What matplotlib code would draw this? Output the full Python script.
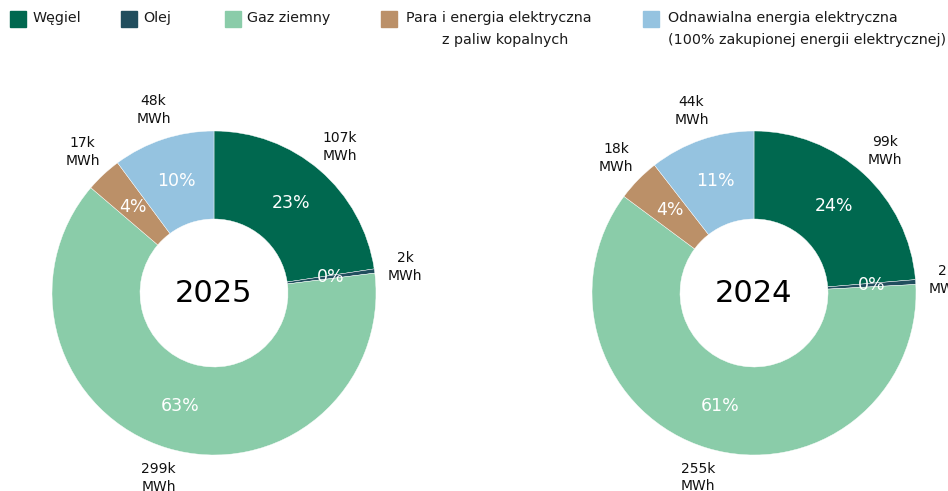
import matplotlib as mpl
import matplotlib.pyplot as plt
from matplotlib.patches import Rectangle

mpl.rc('font', family='DejaVu Sans')

# data
categories = ['Węgiel', 'Olej', 'Gaz ziemny',
              'Para i energia elektryczna\n        z paliw kopalnych',
              'Odnawialna energia elektryczna\n(100% zakupionej energii elektrycznej)']
colors = ['#00684f', '#214e5e', '#8acca9', '#bb9068', '#95c3e0']
years = ['2025', '2024']
values_2025 = [107, 2, 299, 17, 48]   # k MWh
values_2024 = [99, 2, 255, 18, 44]
series = [values_2025, values_2024]

W, H = 948, 491
fig = plt.figure(figsize=(W / 100, H / 100), dpi=100)
ax = fig.add_axes([0, 0, 1, 1])

R = 162
centers = [(214, H - 293), (754, H - 293)]

for year, vals, c in zip(years, series, centers):
    wedges, texts, autotexts = ax.pie(
        vals, colors=colors, startangle=90, counterclock=False,
        center=c, radius=R, labels=[f'{v}k\nMWh' for v in vals],
        labeldistance=1.19, autopct='%.0f%%', pctdistance=0.73,
        wedgeprops=dict(width=88, edgecolor='white', linewidth=0.3),
        textprops=dict(fontsize=10, color='#111111'), frame=True)
    for t in texts:
        t.set_horizontalalignment('center')
        t.set_linespacing(1.35)
    for t in autotexts:
        t.set_color('white')
        t.set_fontsize(12.5)
    ax.text(c[0], c[1], year, ha='center', va='center', fontsize=22, color='black')

ax.set_xlim(0, W)
ax.set_ylim(0, H)
ax.set_aspect('equal')
ax.axis('off')

# legend drawn by hand
leg_x = [10, 121, 225, 381, 643]
text_dx = [23, 22, 22, 25, 25]
for x, dx, col, name in zip(leg_x, text_dx, colors, categories):
    fig.patches.append(Rectangle((x / W, 1 - 27 / H), 16 / W, 16 / H,
                                 transform=fig.transFigure, color=col))
    fig.text((x + dx) / W, 1 - 11 / H, name, ha='left', va='top',
             fontsize=10.3, color='#1a1a1a', linespacing=1.7)

fig.savefig('out.png', dpi=100)
